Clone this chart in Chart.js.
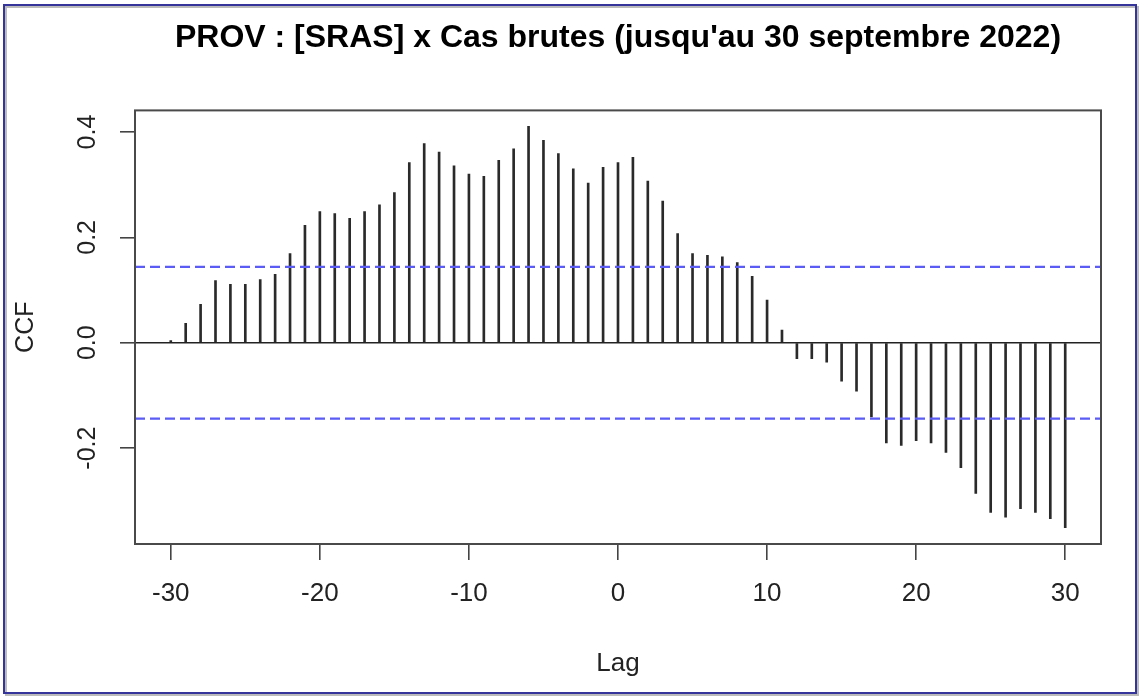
<!DOCTYPE html>
<html>
<head>
<meta charset="utf-8">
<script src="https://cdn.jsdelivr.net/npm/chart.js@4/dist/chart.umd.min.js"></script>
<style>
html, body { margin: 0; padding: 0; background: #ffffff; }
#wrap { width: 1142px; height: 698px; position: relative; }
canvas { display: block; }
</style>
</head>
<body>
<div id="wrap"><canvas id="c" width="1142" height="698"></canvas></div>
<script>
// ---- data ----
const lags = [-30,-29,-28,-27,-26,-25,-24,-23,-22,-21,-20,-19,-18,-17,-16,-15,-14,-13,-12,-11,
  -10,-9,-8,-7,-6,-5,-4,-3,-2,-1,0,1,2,3,4,5,6,7,8,9,10,11,12,13,14,15,16,17,18,19,20,
  21,22,23,24,25,26,27,28,29,30];
const ccfValues = [0.004,0.037,0.073,0.118,0.111,0.111,0.120,0.130,0.169,0.223,
  0.249,0.245,0.236,0.249,0.262,0.285,0.342,0.378,0.362,0.336,
  0.320,0.316,0.346,0.368,0.411,0.384,0.359,0.330,0.303,0.333,
  0.342,0.352,0.307,0.269,0.207,0.169,0.166,0.163,0.152,0.126,
  0.081,0.024,-0.030,-0.030,-0.037,-0.073,-0.092,-0.141,-0.190,-0.195,
  -0.186,-0.190,-0.208,-0.237,-0.286,-0.322,-0.331,-0.315,-0.322,-0.334,-0.351];
const ciBound = 0.144;
const xTickValues = [-30,-20,-10,0,10,20,30];
const yTickValues = [-0.2,0.0,0.2,0.4];
const xRange = [-32.4, 32.4];
const yRange = [-0.382, 0.441];
const titleText = "PROV : [SRAS] x Cas brutes (jusqu'au 30 septembre 2022)";
const xTitle = "Lag";
const yTitle = "CCF";

const FONT = "'Liberation Sans', Arial, Helvetica, sans-serif";

const decor = {
  id: 'decor',
  beforeDraw(chart) {
    const ctx = chart.ctx;
    ctx.save();
    ctx.fillStyle = '#ffffff';
    ctx.fillRect(0, 0, chart.width, chart.height);
    ctx.restore();
  },
  afterDatasetsDraw(chart) {
    const ctx = chart.ctx;
    const a = chart.chartArea;
    const ys = chart.scales.y;
    ctx.save();
    // zero line
    const y0 = ys.getPixelForValue(0);
    ctx.strokeStyle = '#222222';
    ctx.lineWidth = 1.6;
    ctx.beginPath();
    ctx.moveTo(a.left, y0);
    ctx.lineTo(a.right, y0);
    ctx.stroke();
    // confidence bounds
    ctx.strokeStyle = '#5b5bf6';
    ctx.lineWidth = 2.4;
    ctx.setLineDash([10, 5]);
    [ciBound, -ciBound].forEach(v => {
      const y = ys.getPixelForValue(v);
      ctx.beginPath();
      ctx.moveTo(a.left, y);
      ctx.lineTo(a.right, y);
      ctx.stroke();
    });
    ctx.setLineDash([]);
    // plot box
    ctx.strokeStyle = '#4a4a4a';
    ctx.lineWidth = 2;
    ctx.strokeRect(a.left, a.top, a.right - a.left, a.bottom - a.top);
    ctx.restore();
  },
  afterDraw(chart) {
    const ctx = chart.ctx;
    ctx.save();
    ctx.strokeStyle = 'rgba(120,120,120,0.5)';
    ctx.lineWidth = 2;
    ctx.strokeRect(6, 7, chart.width - 10, chart.height - 10);
    ctx.strokeStyle = '#34349a';
    ctx.lineWidth = 2;
    ctx.strokeRect(4, 5, chart.width - 10, chart.height - 10);
    ctx.restore();
  }
};

new Chart(document.getElementById('c'), {
  type: 'bar',
  data: {
    datasets: [{
      data: lags.map((x, i) => ({ x: x, y: ccfValues[i] })),
      backgroundColor: '#2a2a2a',
      borderWidth: 0,
      barThickness: 2
    }]
  },
  options: {
    responsive: false,
    animation: false,
    layout: { padding: { left: 0, right: 41, top: 0, bottom: 0 } },
    plugins: {
      legend: { display: false },
      tooltip: { enabled: false },
      title: {
        display: true,
        text: titleText,
        fullSize: false,
        color: '#000000',
        font: { family: FONT, size: 32, weight: 'bold' },
        padding: { top: 19, bottom: 53 }
      }
    },
    scales: {
      x: {
        type: 'linear',
        min: xRange[0],
        max: xRange[1],
        offset: false,
        afterBuildTicks: s => { s.ticks = xTickValues.map(v => ({ value: v })); },
        afterFit: s => { s.height = 154; },
        border: { display: false },
        grid: { display: true, offset: false, drawOnChartArea: false, drawTicks: true, tickLength: 16, tickColor: '#444444', lineWidth: 1.6 },
        ticks: { color: '#222222', font: { family: FONT, size: 26 }, padding: 18, maxRotation: 0, minRotation: 0, callback: v => String(v) },
        title: { display: true, text: xTitle, color: '#222222', font: { family: FONT, size: 26 }, padding: { top: 0, bottom: 19 } }
      },
      y: {
        type: 'linear',
        min: yRange[0],
        max: yRange[1],
        afterBuildTicks: s => { s.ticks = yTickValues.map(v => ({ value: v })); },
        afterFit: s => { s.width = 135; },
        border: { display: false },
        grid: { display: true, drawOnChartArea: false, drawTicks: true, tickLength: 15, tickColor: '#444444', lineWidth: 1.6 },
        ticks: { color: '#222222', font: { family: FONT, size: 25 }, padding: 10, minRotation: 90, maxRotation: 90, crossAlign: 'center', callback: v => Number(v).toFixed(1) },
        title: { display: true, text: yTitle, color: '#222222', font: { family: FONT, size: 25 }, padding: { top: 11, bottom: 0 } }
      }
    }
  },
  plugins: [decor]
});
</script>
</body>
</html>
